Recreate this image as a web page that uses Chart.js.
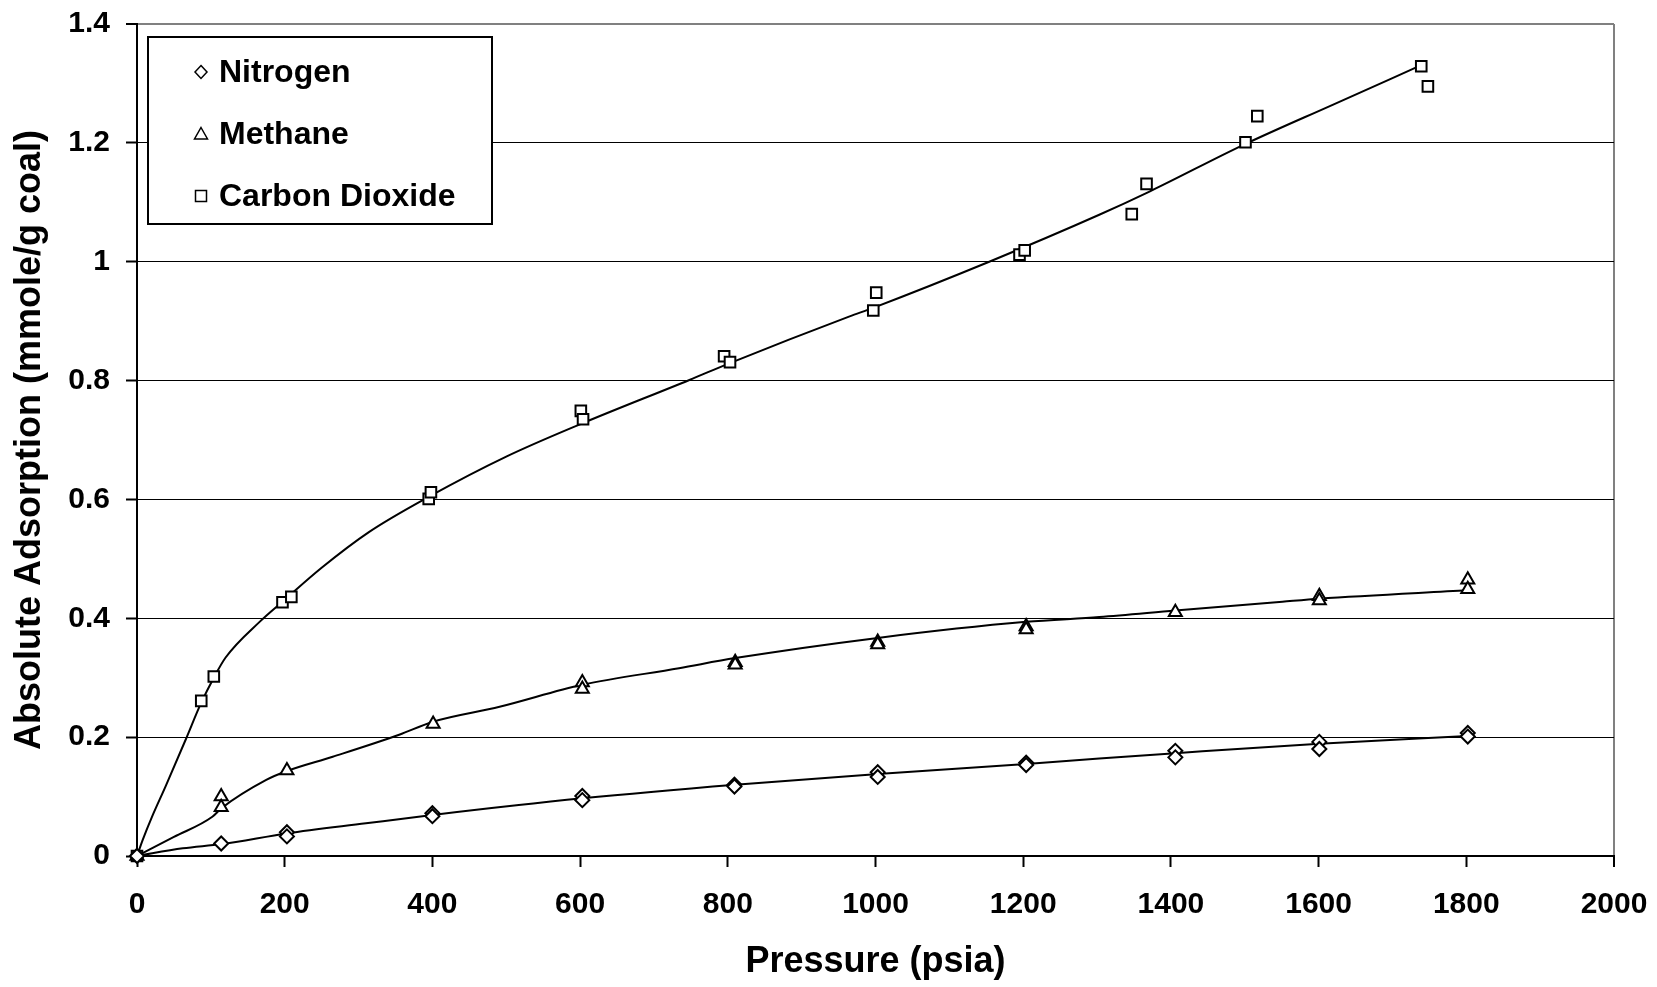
<!DOCTYPE html>
<html>
<head>
<meta charset="utf-8">
<title>Absolute Adsorption</title>
<script src="https://cdn.jsdelivr.net/npm/chart.js@4/dist/chart.umd.min.js"></script>
<style>
  html, body { margin: 0; padding: 0; background: #fff; }
  #wrap { width: 1657px; height: 987px; }
</style>
</head>
<body>
<div id="wrap"><canvas id="myChart" width="1657" height="987"></canvas></div>
<script>
// measured points (pressure psia, adsorption mmole/g coal)
const n2Pressure = [0, 114, 203, 203, 400, 400, 603, 603, 809, 809, 1003, 1003, 1204, 1204, 1406, 1406, 1601, 1601, 1802, 1802];
const n2Ads = [0, 0.021, 0.040, 0.033, 0.072, 0.067, 0.101, 0.094, 0.120, 0.117, 0.141, 0.133, 0.157, 0.153, 0.177, 0.166, 0.192, 0.180, 0.207, 0.201];

const ch4Pressure = [0, 114, 114, 203, 401, 603, 603, 810, 810, 1003, 1003, 1204, 1204, 1406, 1601, 1601, 1802, 1802];
const ch4Ads = [0, 0.100, 0.082, 0.144, 0.222, 0.292, 0.281, 0.326, 0.322, 0.360, 0.356, 0.386, 0.381, 0.410, 0.437, 0.430, 0.465, 0.449];

const co2Pressure = [0, 87, 104, 197, 209, 395, 398, 601, 604, 795, 803, 997, 1001, 1195, 1202, 1347, 1367, 1501, 1517, 1739, 1748];
const co2Ads = [0, 0.261, 0.302, 0.427, 0.436, 0.601, 0.612, 0.749, 0.735, 0.841, 0.831, 0.918, 0.948, 1.012, 1.019, 1.080, 1.131, 1.201, 1.245, 1.329, 1.295];

// fitted curves
const n2FitP = [0, 62, 114, 203, 310, 400, 603, 810, 1003, 1204, 1303, 1406, 1601, 1802];
const n2FitQ = [0, 0.013, 0.020, 0.038, 0.055, 0.069, 0.097, 0.120, 0.138, 0.155, 0.164, 0.173, 0.189, 0.202];

const ch4FitP = [0, 50, 102, 114, 175, 203, 265, 355, 401, 491, 603, 734, 810, 1003, 1204, 1303, 1406, 1551, 1601, 1802];
const ch4FitQ = [0, 0.032, 0.066, 0.080, 0.128, 0.143, 0.167, 0.204, 0.226, 0.251, 0.288, 0.316, 0.333, 0.367, 0.394, 0.402, 0.413, 0.428, 0.433, 0.447];

const co2FitP = [0, 8, 20, 39, 66, 87, 104, 120, 166, 197, 250, 314, 396, 500, 603, 748, 802, 965, 996, 1154, 1303, 1371, 1499, 1619, 1736];
const co2FitQ = [0, 0.028, 0.065, 0.118, 0.196, 0.258, 0.300, 0.334, 0.394, 0.428, 0.485, 0.545, 0.605, 0.672, 0.728, 0.801, 0.829, 0.908, 0.922, 1.000, 1.079, 1.118, 1.197, 1.264, 1.329];

const seriesNames = ['Nitrogen', 'Methane', 'Carbon Dioxide'];
const xTitle = 'Pressure (psia)';
const yTitle = 'Absolute Adsorption (mmole/g coal)';

const FONT = '"Liberation Sans", Arial, Helvetica, sans-serif';

function pts(xs, ys) {
  return xs.map((x, i) => ({ x: x, y: ys[i] }));
}

function fitSet(xs, ys) {
  return {
    label: '',
    data: pts(xs, ys),
    showLine: true,
    borderColor: '#000',
    borderWidth: 2,
    pointRadius: 0,
    pointHoverRadius: 0,
    cubicInterpolationMode: 'monotone',
    fill: false
  };
}

function markerSet(label, xs, ys, style, r) {
  return {
    label: label,
    data: pts(xs, ys),
    showLine: false,
    pointStyle: style,
    pointRadius: r,
    pointHoverRadius: r,
    pointBackgroundColor: '#fff',
    pointBorderColor: '#000',
    pointBorderWidth: 2,
    clip: false
  };
}

// boxed legend in the upper left corner of the plot
const boxLegend = {
  id: 'boxLegend',
  afterDatasetsDraw(chart) {
    const ctx = chart.ctx;
    const a = chart.chartArea;
    const left = a.left + 11, top = a.top + 13, w = 344, h = 187;
    ctx.save();
    ctx.fillStyle = '#fff';
    ctx.fillRect(left, top, w, h);
    ctx.strokeStyle = '#000';
    ctx.lineWidth = 2;
    ctx.strokeRect(left, top, w, h);

    const items = chart.data.datasets.filter(d => d.label);
    ctx.font = 'bold 32px ' + FONT;
    ctx.textBaseline = 'middle';
    items.forEach((d, i) => {
      const cy = top + 35 + i * 62;
      const cx = left + 53;
      ctx.beginPath();
      ctx.lineWidth = 1.5;
      if (d.pointStyle === 'rectRot') {
        ctx.moveTo(cx, cy - 6.5); ctx.lineTo(cx + 6, cy); ctx.lineTo(cx, cy + 6.5); ctx.lineTo(cx - 6, cy);
      } else if (d.pointStyle === 'triangle') {
        ctx.moveTo(cx, cy - 6.5); ctx.lineTo(cx + 6.5, cy + 5); ctx.lineTo(cx - 6.5, cy + 5);
      } else {
        ctx.rect(cx - 5.5, cy - 5.5, 11, 11);
      }
      ctx.closePath();
      ctx.fillStyle = '#fff';
      ctx.fill();
      ctx.stroke();
      ctx.fillStyle = '#000';
      ctx.fillText(d.label, left + 71, cy + 1);
    });
    ctx.restore();
  }
};

const ctx = document.getElementById('myChart').getContext('2d');
const myChart = new Chart(ctx, {
  type: 'scatter',
  data: {
    datasets: [
      markerSet(seriesNames[0], n2Pressure, n2Ads, 'rectRot', 7),
      markerSet(seriesNames[1], ch4Pressure, ch4Ads, 'triangle', 7.5),
      markerSet(seriesNames[2], co2Pressure, co2Ads, 'rect', 7.5),
      fitSet(n2FitP, n2FitQ),
      fitSet(ch4FitP, ch4FitQ),
      fitSet(co2FitP, co2FitQ)
    ]
  },
  options: {
    responsive: false,
    animation: false,
    devicePixelRatio: 1,
    layout: { padding: { left: 0, top: 24, right: 43, bottom: 0 } },
    plugins: {
      legend: { display: false },
      tooltip: { enabled: false },
      title: { display: false }
    },
    scales: {
      x: {
        type: 'linear',
        min: 0,
        max: 2000,
        afterFit: s => {
          s.height = 131;
          s.paddingLeft = 0;
          s.paddingRight = 0;
        },
        ticks: {
          stepSize: 200,
          padding: 20,
          color: '#000',
          maxRotation: 0,
          callback: v => String(v),
          font: { family: FONT, size: 30, weight: 'bold' }
        },
        grid: {
          drawOnChartArea: true,
          color: c => (c.tick && c.tick.value === 2000) ? '#808080' : 'rgba(0,0,0,0)',
          lineWidth: c => (c.tick && c.tick.value === 2000) ? 2 : 1,
          tickColor: '#000',
          tickWidth: 2,
          tickLength: 11
        },
        border: { display: true, color: '#000', width: 2 },
        title: {
          display: true,
          text: xTitle,
          color: '#000',
          padding: { top: 0, bottom: 3 },
          font: { family: FONT, size: 36, weight: 'bold' }
        }
      },
      y: {
        type: 'linear',
        min: 0,
        max: 1.4,
        afterFit: s => {
          s.width = 137;
          s.paddingTop = 0;
          s.paddingBottom = 0;
        },
        ticks: {
          stepSize: 0.2,
          padding: 16,
          color: '#000',
          callback: v => String(Number(v.toFixed(1))),
          font: { family: FONT, size: 30, weight: 'bold' }
        },
        grid: {
          color: c => (c.tick && Math.abs(c.tick.value - 1.4) < 1e-9) ? '#808080' : '#000',
          lineWidth: c => (c.tick && Math.abs(c.tick.value - 1.4) < 1e-9) ? 2 : 1,
          tickColor: '#000',
          tickWidth: 2,
          tickLength: 11
        },
        border: { display: true, color: '#000', width: 2 },
        title: {
          display: true,
          text: yTitle,
          color: '#000',
          padding: { top: 8, bottom: 0 },
          font: { family: FONT, size: 36, weight: 'bold' }
        }
      }
    }
  },
  plugins: [boxLegend]
});
</script>
</body>
</html>
